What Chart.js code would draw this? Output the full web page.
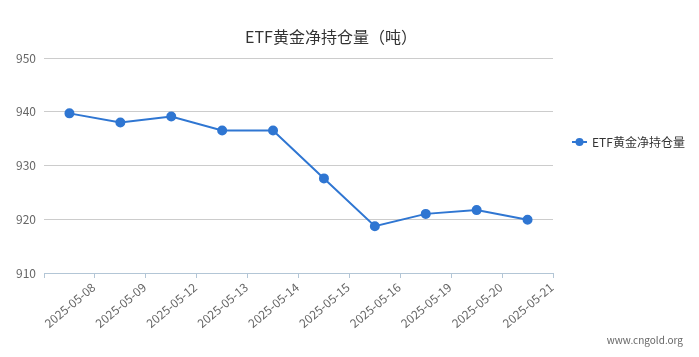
<!DOCTYPE html>
<html>
<head>
<meta charset="utf-8">
<script src="https://cdn.jsdelivr.net/npm/chart.js@4"></script>
<style>
  html, body { margin: 0; padding: 0; background: #fff; }
  #wrap { width: 699px; height: 357px; }
</style>
</head>
<body>
<div id="wrap"><canvas id="c" width="699" height="357"></canvas></div>
<script>
const categories = ['2025-05-08','2025-05-09','2025-05-12','2025-05-13','2025-05-14','2025-05-15','2025-05-16','2025-05-19','2025-05-20','2025-05-21'];
const holdings = [939.7, 938.0, 939.1, 936.5, 936.5, 927.6, 918.7, 921.0, 921.7, 919.9];
const seriesName = 'ETF黄金净持仓量';
const chartTitle = 'ETF黄金净持仓量（吨）';
const watermark = 'www.cngold.org';
const yTicks = [910, 920, 930, 940, 950];

const FONT = '"Noto Sans CJK SC", "Noto Sans", sans-serif';
const LINE = '#2f76d2';

const extras = {
  id: 'extras',
  afterDraw(chart) {
    const ctx = chart.ctx;
    ctx.save();
    // title
    ctx.fillStyle = '#333';
    ctx.font = '16px ' + FONT;
    ctx.textAlign = 'center';
    ctx.textBaseline = 'middle';
    ctx.fillText(chartTitle, 331, 37);
    // legend
    const ly = 142;
    ctx.strokeStyle = LINE;
    ctx.lineWidth = 2;
    ctx.beginPath(); ctx.moveTo(572, ly); ctx.lineTo(587, ly); ctx.stroke();
    ctx.fillStyle = LINE;
    ctx.beginPath(); ctx.arc(579.5, ly, 4, 0, Math.PI * 2); ctx.fill();
    ctx.fillStyle = '#333';
    ctx.font = '12px ' + FONT;
    ctx.textAlign = 'left';
    ctx.fillText(seriesName, 592, ly);
    // watermark
    ctx.fillStyle = '#666';
    ctx.font = '10px ' + FONT;
    ctx.textAlign = 'right';
    ctx.fillText(watermark, 683, 340);
    ctx.restore();
  }
};

new Chart(document.getElementById('c'), {
  type: 'line',
  data: {
    labels: categories,
    datasets: [{
      label: seriesName,
      data: holdings,
      borderColor: LINE,
      backgroundColor: LINE,
      pointBackgroundColor: LINE,
      pointBorderColor: LINE,
      borderWidth: 2,
      pointRadius: 4,
      tension: 0,
      fill: false
    }]
  },
  options: {
    responsive: false,
    animation: false,
    devicePixelRatio: 1,
    layout: { padding: { top: 58, right: 146, bottom: 0, left: 0 } },
    plugins: {
      legend: { display: false },
      title: { display: false },
      tooltip: { enabled: false }
    },
    scales: {
      x: {
        offset: true,
        afterFit(s) { s.height = 84; },
        grid: {
          offset: true,
          drawOnChartArea: false,
          drawTicks: true,
          tickLength: 5,
          color: '#b3c6d6'
        },
        border: { display: true, color: '#b3c6d6', width: 1 },
        ticks: {
          autoSkip: false,
          minRotation: 40,
          maxRotation: 40,
          labelOffset: 24,
          padding: 2,
          color: '#666',
          font: { family: FONT, size: 12 }
        }
      },
      y: {
        min: yTicks[0],
        max: yTicks[yTicks.length - 1],
        afterFit(s) { s.width = 44; },
        afterBuildTicks(s) { s.ticks = yTicks.map(v => ({ value: v })); },
        grid: { color: '#cccccc', drawTicks: false, lineWidth: 1 },
        border: { display: false },
        ticks: {
          padding: 8,
          color: '#666',
          font: { family: FONT, size: 12 }
        }
      }
    }
  },
  plugins: [extras]
});
</script>
</body>
</html>
